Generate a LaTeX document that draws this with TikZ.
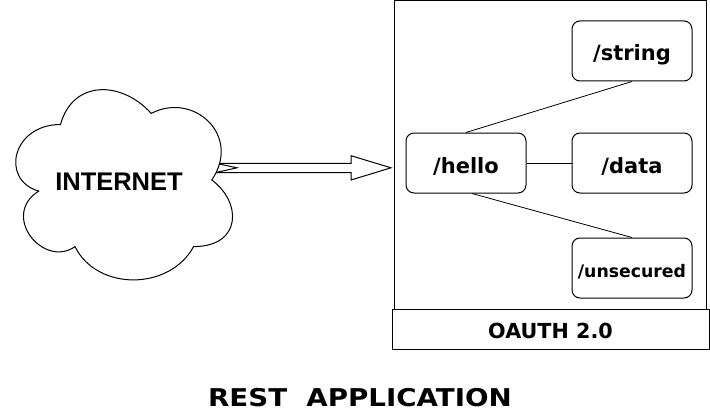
\documentclass[tikz,border=0pt]{standalone}
\usepackage{fontspec}
\newfontfamily\lblfont{DejaVu Sans}[BoldFont={DejaVu Sans Bold}]
\newfontfamily\widefont{DejaVu Sans Bold}[FakeStretch=1.13]
\newfontfamily\netfont{Liberation Sans}
\usetikzlibrary{calc}
\begin{document}
\begin{tikzpicture}[x=1pt,y=-1pt,
  box/.style={draw,line width=1pt,rounded corners=8pt,minimum width=120pt,minimum height=60pt,inner sep=0pt,text height=20pt,text depth=0pt,font=\lblfont\bfseries\fontsize{21}{25}\selectfont},
  frame/.style={draw,line width=1pt,inner sep=0pt},
  link/.style={draw,line width=0.8pt}]
\useasboundingbox (0,0) rectangle (710,412);
% application frame
\node[frame,minimum width=312pt,minimum height=308pt] (app) at (550,155) {};
\node[frame,fill=white,minimum width=317pt,minimum height=40pt,text height=18.6pt,text depth=0pt,font=\lblfont\bfseries\fontsize{20.7}{24}\selectfont] (oauth) at (550.5,329) {OAUTH 2.0};
% endpoint boxes
\node[box,text height=21pt] (hello) at (466,163) {/hello};
\node[box,text height=18.5pt] (string) at (632,51) {/string};
\node[box] (data) at (632,163) {/data};
\node[box,text height=18.6pt,font=\lblfont\bfseries\fontsize{17.3}{20}\selectfont] (unsec) at (632,268) {/unsecured};
\draw[link] (hello.north) -- (string.south);
\draw[link] (hello.east) -- (data.west);
\draw[link] ($(hello.south)+(6,0)$) -- (unsec.north);
% block arrow
\coordinate (atip) at ($(app.west)+(-2.5,12.8)$);
\coordinate (atail) at (216,167.8);
\draw[line width=1pt,fill=white,line join=miter]
  ($(atail)+(0,-4.5)$) -- ($(atip)+(-40,-4.5)$) -- ($(atip)+(-40,-12.1)$) -- (atip)
  -- ($(atip)+(-40,12.2)$) -- ($(atip)+(-40,4.7)$) -- ($(atail)+(0,4.7)$)
  -- ($(atail)+(21,0)$) -- cycle;
% cloud
\draw[line width=1pt,fill=white] (60.5,124.5)
  .. controls (12.1,124.5) and (0,180) .. (38.72,191.1)
  .. controls (0,215.5) and (43.56,268.8) .. (75.02,246.6)
  .. controls (96.8,291) and (169.4,291) .. (193.6,246.6)
  .. controls (242,246.6) and (242,202.2) .. (211.75,180)
  .. controls (242,135.6) and (193.6,91.2) .. (151.25,113.4)
  .. controls (121,80.1) and (72.6,80.1) .. (60.5,124.5) -- cycle;
\node[font=\netfont\bfseries\fontsize{25.5}{30}\selectfont] (internet) at (119,182) {INTERNET};
% title
\node[font=\widefont\fontsize{24.5}{29}\selectfont] (title) at (360,398) {REST\ \ APPLICATION};
\end{tikzpicture}
\end{document}
